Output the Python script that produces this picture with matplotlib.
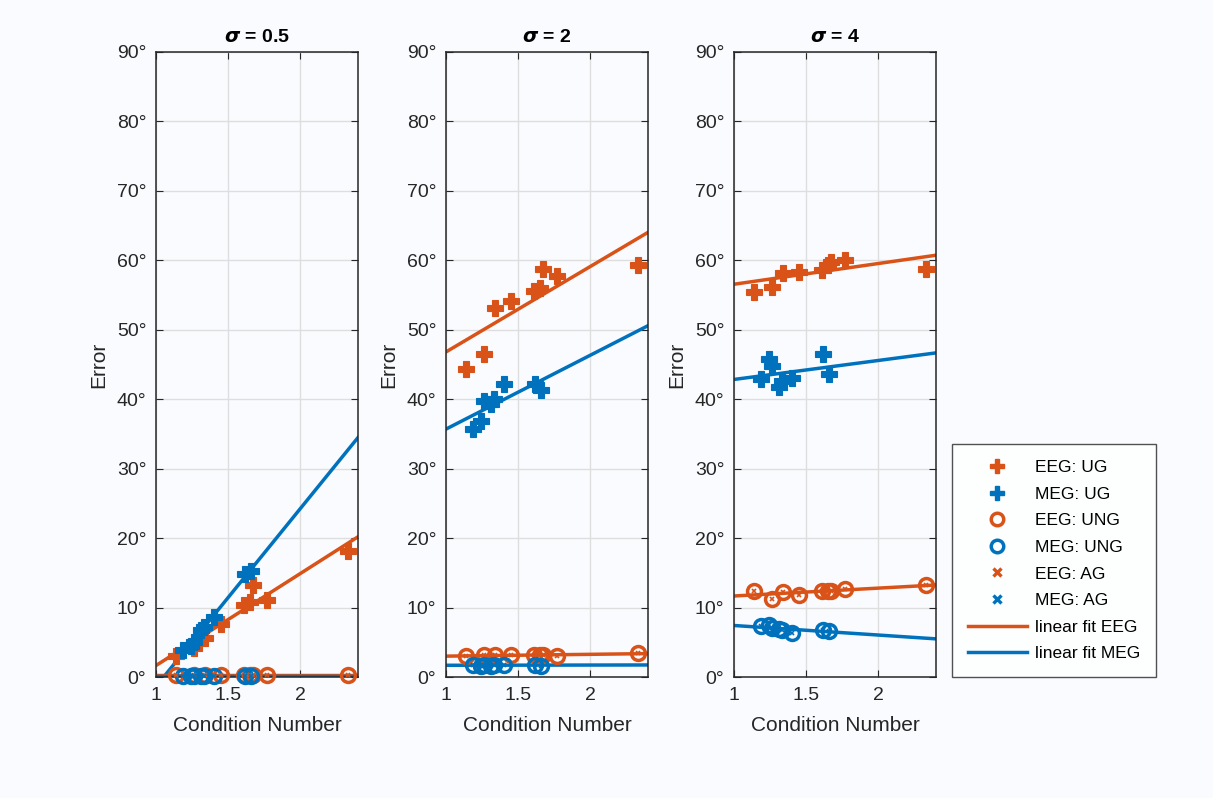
import numpy as np
import matplotlib
matplotlib.use("Agg")
import matplotlib.pyplot as plt
from matplotlib.lines import Line2D
from matplotlib.ticker import FuncFormatter

plt.rcParams["font.family"] = ["Liberation Sans", "DejaVu Sans"]
plt.rcParams["mathtext.fontset"] = "dejavusans"

ORANGE, BLUE = "#D95319", "#0072BD"
BG = "#f9fbfe"

# condition numbers (EEG / MEG datasets)
cond_eeg = [1.14, 1.26, 1.34, 1.45, 1.61, 1.65, 1.67, 1.77, 2.33]
cond_meg = [1.19, 1.24, 1.26, 1.31, 1.33, 1.40, 1.62, 1.66]

sigmas = ["0.5", "2", "4"]

# error in degrees, one row per sigma
eeg_ug = [[3.0, 4.2, 5.6, 7.6, 10.3, 10.8, 13.2, 11.1, 18.2],
          [44.4, 46.5, 53.2, 54.1, 55.6, 56.0, 58.7, 57.7, 59.3],
          [55.4, 56.1, 58.2, 58.3, 58.6, 59.4, 59.7, 60.1, 58.8]]
meg_ug = [[3.9, 4.5, 5.0, 6.8, 7.2, 8.6, 14.9, 15.3],
          [35.7, 36.9, 39.8, 39.3, 40.1, 42.2, 42.2, 41.4],
          [42.9, 45.8, 44.8, 41.7, 42.6, 43.0, 46.5, 43.7]]
eeg_ung = [[0.3, 0.3, 0.3, 0.3, 0.3, 0.3, 0.3, 0.3, 0.3],
           [3.0, 3.1, 3.1, 3.2, 3.2, 3.2, 3.2, 3.0, 3.4],
           [12.4, 11.3, 12.3, 11.8, 12.4, 12.4, 12.4, 12.7, 13.2]]
meg_ung = [[0.1, 0.1, 0.1, 0.1, 0.1, 0.1, 0.1, 0.1],
           [1.7, 1.6, 1.8, 1.6, 1.7, 1.8, 1.8, 1.6],
           [7.3, 7.5, 7.1, 6.9, 6.7, 6.3, 6.8, 6.6]]
eeg_ag = eeg_ung
meg_ag = meg_ung

XLIM = (1, 2.4)

fig = plt.figure(figsize=(12.13, 7.98), dpi=100, facecolor=BG)
lefts = [156, 446, 734]
for k, sig in enumerate(sigmas):
    ax = fig.add_axes([lefts[k] / 1213, 1 - 677 / 798, 202 / 1213, 625 / 798])
    ax.set_facecolor(BG)
    xs = np.array(XLIM)
    # linear fits of each marker group
    for cx, ys, col in [(cond_eeg, eeg_ug[k], ORANGE), (cond_meg, meg_ug[k], BLUE),
                        (cond_eeg, eeg_ung[k], ORANGE), (cond_meg, meg_ung[k], BLUE)]:
        p = np.polyfit(cx, ys, 1)
        ax.plot(xs, np.polyval(p, xs), color=col, lw=2.5, zorder=2)
    ax.plot(cond_eeg, eeg_ug[k], "P", color=ORANGE, ms=11.5, mec=ORANGE, mew=0.8, ls="none", zorder=3, clip_on=False)
    ax.plot(cond_meg, meg_ug[k], "P", color=BLUE, ms=11.5, mec=BLUE, mew=0.8, ls="none", zorder=3, clip_on=False)
    ax.plot(cond_eeg, eeg_ung[k], "o", mfc="none", mec=ORANGE, ms=10, mew=2.5, ls="none", zorder=3, clip_on=False)
    ax.plot(cond_meg, meg_ung[k], "o", mfc="none", mec=BLUE, ms=10, mew=2.5, ls="none", zorder=3, clip_on=False)
    ax.plot(cond_eeg, eeg_ag[k], "x", color=ORANGE, ms=3, mew=1.2, ls="none", zorder=4, clip_on=False)
    ax.plot(cond_meg, meg_ag[k], "x", color=BLUE, ms=3, mew=1.2, ls="none", zorder=4, clip_on=False)

    ax.set_xlim(*XLIM)
    ax.set_ylim(0, 90)
    ax.set_xticks([1, 1.5, 2])
    ax.set_xticklabels(["1", "1.5", "2"])
    ax.set_yticks(range(0, 91, 10))
    ax.yaxis.set_major_formatter(FuncFormatter(lambda v, _: f"{v:.0f}°"))
    ax.grid(True, color="#dedede", lw=1)
    ax.set_axisbelow(True)
    ax.tick_params(direction="in", top=True, right=True, labelsize=14, length=5, pad=7,
                   color="#262626", labelcolor="#262626")
    for s in ax.spines.values():
        s.set_color("#262626")
        s.set_linewidth(1.1)
    ax.set_xlabel("Condition Number", fontsize=15, color="#262626", labelpad=9)
    ax.set_ylabel("Error", fontsize=15, color="#262626", labelpad=6)
    ax.set_title(r"$\mathbfit{\sigma}$ = " + sig, fontsize=14, fontweight="bold", pad=7)

handles = [
    Line2D([], [], marker="P", color=ORANGE, ls="none", ms=10),
    Line2D([], [], marker="P", color=BLUE, ls="none", ms=10),
    Line2D([], [], marker="o", mfc="none", mec=ORANGE, mew=2.5, ls="none", ms=9),
    Line2D([], [], marker="o", mfc="none", mec=BLUE, mew=2.5, ls="none", ms=9),
    Line2D([], [], marker="x", color=ORANGE, mew=2.4, ls="none", ms=6),
    Line2D([], [], marker="x", color=BLUE, mew=2.4, ls="none", ms=6),
    Line2D([], [], color=ORANGE, lw=2.5),
    Line2D([], [], color=BLUE, lw=2.5),
]
labels = ["EEG: UG", "MEG: UG", "EEG: UNG", "MEG: UNG", "EEG: AG", "MEG: AG",
          "linear fit EEG", "linear fit MEG"]
leg = fig.legend(handles, labels, loc="lower left", bbox_to_anchor=(952 / 1213, 1 - 677 / 798),
                 borderaxespad=0, fontsize=12.5, frameon=True, fancybox=False,
                 edgecolor="#262626", facecolor="white", handlelength=3.4,
                 handletextpad=0.5, labelspacing=0.66, borderpad=0.9)
leg.get_frame().set_linewidth(1.0)

fig.savefig("out.png", dpi=100, facecolor=BG)
